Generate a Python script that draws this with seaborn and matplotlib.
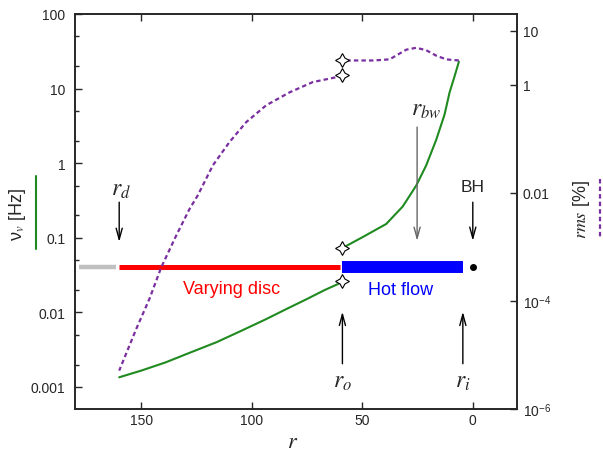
import numpy as np
import matplotlib
matplotlib.use('Agg')
import matplotlib.pyplot as plt
import matplotlib.ticker as mticker
from matplotlib.lines import Line2D
import seaborn as sns

# characteristic frequency nu_v (left axis), log10 values
disc_r = [160, 150, 139, 128, 116, 105, 93.5, 84, 75, 67, 61, 59]
disc_lognu = [-2.87, -2.78, -2.67, -2.54, -2.40, -2.25, -2.09, -1.95, -1.82, -1.70, -1.62, -1.575]
flow_r = [59, 49.8, 39.2, 31.7, 25.6, 21.1, 16.6, 12.8, 10.5, 8.3, 6.3]
flow_lognu = [-1.137, -0.99, -0.815, -0.58, -0.30, -0.03, 0.31, 0.65, 0.95, 1.16, 1.36]

# rms (right axis), log10 values
rms_disc_r = [160, 152.3, 146.3, 141, 134.2, 128.2, 124.5, 117.6, 110.1, 102.5, 93.5, 82.9, 72.4, 61.8, 59]
rms_disc_log = [-5.29, -4.52, -3.96, -3.38, -2.79, -2.30, -2.05, -1.49, -1.06, -0.69, -0.38, -0.14, 0.05, 0.14, 0.185]
rms_flow_r = [59, 45, 37.7, 34.7, 30.1, 25.6, 21.1, 16.6, 12, 6.3]
rms_flow_log = [0.45, 0.45, 0.47, 0.54, 0.65, 0.685, 0.64, 0.54, 0.47, 0.45]

# geometry bars: (start r, end r)
outer_zone = [178, 161.4]
disc_zone = [160.2, 60.3]
flow_zone = [59.1, 4.5]
bar_level = 0.040

# radii
r_d, r_o, r_bw, r_i, r_bh = 160, 59, 25.2, 4.5, 0

left_ticks = [100, 10, 1, 0.1, 0.01, 0.001]
left_labels = ['100', '10', '1', '0.1', '0.01', '0.001']
right_ticks = [10, 1, 0.01, 1e-4, 1e-6]
right_labels = ['10', '1', '0.01', '10$^{\\mathregular{-4}}$', '10$^{\\mathregular{-6}}$']
x_ticks = [150, 100, 50, 0]

sns.set_style('ticks')
plt.rcParams['font.family'] = ['Liberation Sans', 'DejaVu Sans']
plt.rcParams['mathtext.fontset'] = 'stix'

green = '#1f8a1f'
purple = '#7a2fa0'

fig = plt.figure(figsize=(6.03, 4.56), dpi=100)
ax = fig.add_axes([75 / 603, 1 - 410 / 456, (517 - 75) / 603, (410 - 15) / 456])
ax2 = ax.twinx()

# green frequency curves
sns.lineplot(x=disc_r, y=10 ** np.array(disc_lognu), ax=ax, color=green, lw=1.5)
sns.lineplot(x=flow_r, y=10 ** np.array(flow_lognu), ax=ax, color=green, lw=1.5)

# zone bars
ax.plot(outer_zone, [bar_level] * 2, color='#c0c0c0', lw=3.2, solid_capstyle='butt')
ax.plot(disc_zone, [bar_level] * 2, color='red', lw=3.6, solid_capstyle='butt')
ax.plot(flow_zone, [bar_level] * 2, color='blue', lw=8.6, solid_capstyle='butt')
ax.plot([r_bh], [bar_level], 'o', color='black', ms=4)

# rms curves
sns.lineplot(x=rms_disc_r, y=10 ** np.array(rms_disc_log), ax=ax2, color=purple,
             lw=1.6, linestyle=(0, (2, 1.4)))
sns.lineplot(x=rms_flow_r, y=10 ** np.array(rms_flow_log), ax=ax2, color=purple,
             lw=1.6, linestyle=(0, (2, 1.4)))

# star markers at r_o
star = (4, 1, 0)
ax.plot([disc_r[-1], flow_r[0]], [10 ** disc_lognu[-1], 10 ** flow_lognu[0]], ls='none',
        marker=star, ms=10, mfc='white', mec='black', mew=0.8, zorder=6)
ax2.plot([rms_disc_r[-1], rms_flow_r[0]], [10 ** rms_disc_log[-1], 10 ** rms_flow_log[0]], ls='none',
         marker=star, ms=10, mfc='white', mec='black', mew=0.8, zorder=6)

ax.set_xlim(180, -20)
ax.set_yscale('log')
ax.set_ylim(10 ** -3.295, 100)
ax2.set_yscale('log')
ax2.set_ylim(1e-6, 10 ** 1.31)

ax.set_xticks(x_ticks)
ax.set_yticks(left_ticks)
ax.set_yticklabels(left_labels)
ax.yaxis.set_minor_locator(mticker.LogLocator(base=10, subs=[2, 5]))
ax.yaxis.set_minor_formatter(mticker.NullFormatter())
ax2.set_yticks(right_ticks)
ax2.set_yticklabels(right_labels)
ax2.yaxis.set_minor_locator(mticker.NullLocator())

ax.tick_params(axis='both', which='major', direction='in', length=5, width=1, labelsize=10, top=True)
ax.tick_params(axis='y', which='major', pad=7)
ax.tick_params(axis='x', which='major', pad=3)
ax.tick_params(axis='y', which='minor', direction='in', length=3, width=1)
ax2.tick_params(axis='y', which='major', direction='in', length=5, width=1, labelsize=10, pad=4)
for a in (ax, ax2):
    for s in a.spines.values():
        s.set_linewidth(1.2)
        s.set_visible(True)
ax.set_xlabel('')
ax.set_ylabel('')
ax2.set_ylabel('')

# arrows
arrow = dict(arrowstyle='->,head_length=0.8,head_width=0.22', lw=1, color='black',
             shrinkA=0, shrinkB=0, mutation_scale=10)
ax.annotate('', xy=(r_d, 0.088), xytext=(r_d, 0.30), arrowprops=arrow)
ax.annotate('', xy=(r_bh, 0.091), xytext=(r_bh, 0.30), arrowprops=arrow)
ax.annotate('', xy=(r_bw, 0.091), xytext=(r_bw, 3.05), arrowprops=dict(arrow, color='#666666'))
ax.annotate('', xy=(r_o, 0.0102), xytext=(r_o, 0.00205), arrowprops=arrow)
ax.annotate('', xy=(r_i, 0.0102), xytext=(r_i, 0.00205), arrowprops=arrow)

ax.text(159, 0.45, '$r_d$', fontsize=17, ha='center', va='center')
ax.text(21.1, 5.3, '$r_{bw}$', fontsize=17, ha='center', va='center')
ax.text(r_bh, 0.49, 'BH', fontsize=12.5, ha='center', va='center')
ax.text(r_o, 0.0012, '$r_o$', fontsize=17, ha='center', va='center')
ax.text(r_i, 0.0012, '$r_i$', fontsize=17, ha='center', va='center')
ax.text(109, 0.0206, 'Varying disc', fontsize=13, color='red', ha='center', va='center')
ax.text(32.7, 0.0200, 'Hot flow', fontsize=13, color='blue', ha='center', va='center')

# axis labels with line keys
fig.text(293 / 603, 1 - 443 / 456, '$r$', fontsize=16, ha='center', va='center')
fig.text(18 / 603, 1 - 214 / 456, 'ν$_{v}$ [Hz]', fontsize=13, rotation=90, ha='center', va='center')
fig.add_artist(Line2D([36 / 603, 36 / 603], [1 - 177 / 456, 1 - 250 / 456], color=green, lw=1.5))
fig.text(582 / 603, 1 - 210 / 456, '$rms$ [%]', fontsize=13, rotation=90, ha='center', va='center')
fig.add_artist(Line2D([600 / 603, 600 / 603], [1 - 180 / 456, 1 - 240 / 456], color=purple, lw=1.6,
                      linestyle=(0, (2, 1.4))))

fig.savefig('out.png', dpi=100)
